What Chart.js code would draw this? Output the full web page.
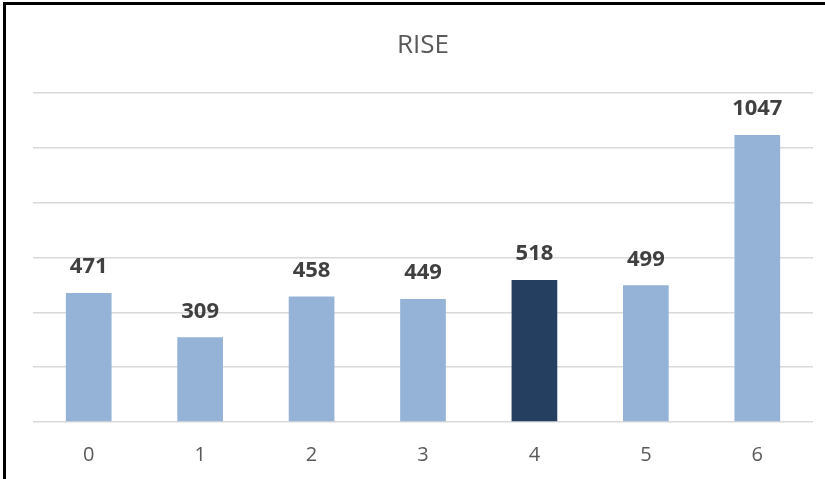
<!DOCTYPE html>
<html>
<head>
<meta charset="utf-8">
<script src="https://cdn.jsdelivr.net/npm/chart.js@4"></script>
<style>
    html, body { margin: 0; padding: 0; background: #fff; overflow: hidden; }
    #wrap { position: relative; width: 825px; height: 479px; }
    #frame {
        position: absolute; left: 3px; top: 2px; width: 840px; height: 500px;
        border-left: 3px solid #000; border-top: 3px solid #000;
        pointer-events: none;
    }
    canvas { position: absolute; left: 0; top: 0; }
</style>
</head>
<body>
<div id="wrap">
    <canvas id="riseChart" width="825" height="479"></canvas>
    <div id="frame"></div>
</div>
<script>
// ==========================================
// DATA
// ==========================================
const categories = ['0', '1', '2', '3', '4', '5', '6'];
const riseValues = [471, 309, 458, 449, 518, 499, 1047];
const highlightIndex = 4;

const lightBlue = '#95B3D7';
const darkBlue = '#243F60';

// value labels above each bar
const barLabels = {
    id: 'barLabels',
    afterDatasetsDraw(chart) {
        const ctx = chart.ctx;
        const meta = chart.getDatasetMeta(0);
        ctx.save();
        ctx.font = 'bold 22px "Open Sans", sans-serif';
        ctx.fillStyle = '#404040';
        ctx.textAlign = 'center';
        ctx.textBaseline = 'middle';
        meta.data.forEach((bar, i) => {
            ctx.fillText(String(riseValues[i]), bar.x, bar.y - 26);
        });
        ctx.restore();
    }
};

new Chart(document.getElementById('riseChart'), {
    type: 'bar',
    data: {
        labels: categories,
        datasets: [{
            data: riseValues,
            backgroundColor: riseValues.map((v, i) => i === highlightIndex ? darkBlue : lightBlue),
            categoryPercentage: 1,
            barPercentage: 0.41
        }]
    },
    options: {
        responsive: false,
        animation: false,
        devicePixelRatio: 1,
        layout: { padding: { left: 33, right: 12, top: 12, bottom: 0 } },
        plugins: {
            legend: { display: false },
            tooltip: { enabled: false },
            title: {
                display: true,
                text: 'RISE',
                color: '#595959',
                font: { family: '"Open Sans", sans-serif', size: 26, weight: 'normal' },
                padding: { top: 18, bottom: 32 }
            }
        },
        scales: {
            x: {
                grid: { display: false },
                border: { display: false },
                ticks: {
                    color: '#595959',
                    font: { family: '"Open Sans", sans-serif', size: 20 },
                    padding: 13
                },
                afterFit(scale) {
                    scale.height = 57;
                }
            },
            y: {
                min: 0,
                max: 1200,
                ticks: { display: false, stepSize: 200 },
                border: { display: false },
                grid: { color: '#d9d9d9', lineWidth: 1.5, drawTicks: false }
            }
        }
    },
    plugins: [barLabels]
});
</script>
</body>
</html>
